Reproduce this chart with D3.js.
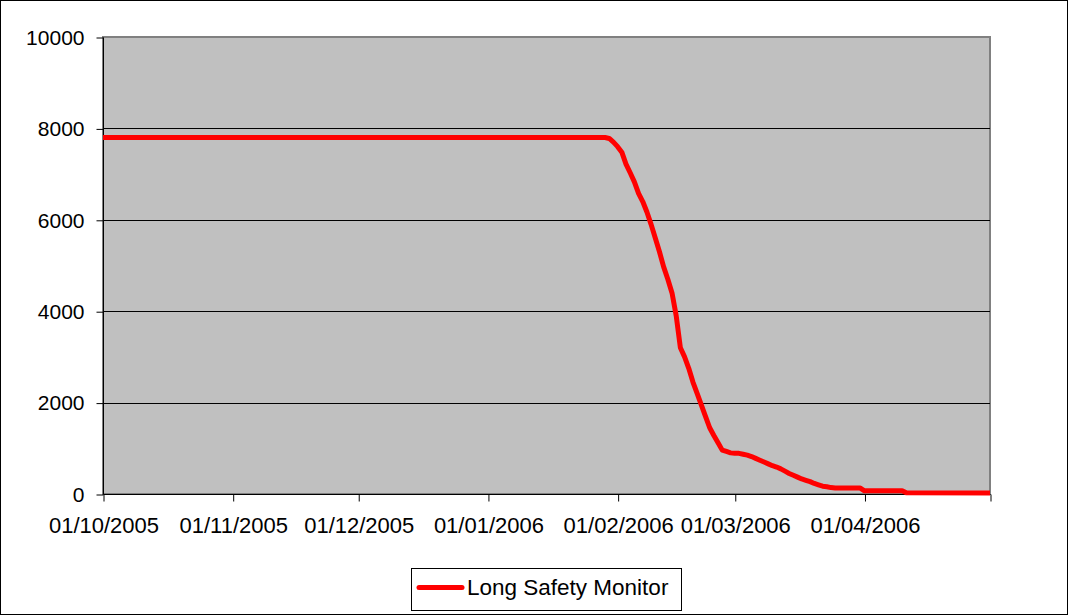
<!DOCTYPE html>
<html>
<head>
<meta charset="utf-8">
<script src="https://cdn.jsdelivr.net/npm/d3@7/dist/d3.min.js"></script>
<style>
  html, body { margin: 0; padding: 0; background: #fff; }
  svg { display: block; font-family: "Liberation Sans", Arial, sans-serif; }
</style>
</head>
<body>
<svg id="chart" width="1068" height="615"></svg>
<script>
// ---- data ----
const seriesName = "Long Safety Monitor";
const dates = [
  "2005-10-01","2006-01-29","2006-01-30","2006-01-31","2006-02-01","2006-02-02",
  "2006-02-03","2006-02-04","2006-02-05","2006-02-06","2006-02-07","2006-02-08",
  "2006-02-09","2006-02-10","2006-02-11","2006-02-12","2006-02-13","2006-02-14",
  "2006-02-15","2006-02-16","2006-02-17","2006-02-18","2006-02-19","2006-02-20",
  "2006-02-21","2006-02-22","2006-02-23","2006-02-24","2006-02-25","2006-02-26",
  "2006-02-27","2006-02-28","2006-03-01","2006-03-02","2006-03-03","2006-03-04",
  "2006-03-05","2006-03-06","2006-03-07","2006-03-08","2006-03-09","2006-03-10",
  "2006-03-11","2006-03-12","2006-03-13","2006-03-14","2006-03-15","2006-03-16",
  "2006-03-17","2006-03-18","2006-03-19","2006-03-20","2006-03-21","2006-03-22",
  "2006-03-23","2006-03-24","2006-03-25","2006-03-31","2006-04-01","2006-04-10",
  "2006-04-11","2006-05-01"
];
const values = [
  7800,7800,7780,7700,7600,7480,
  7220,7030,6830,6580,6400,6170,
  5900,5600,5300,4970,4700,4400,
  3900,3200,3000,2750,2450,2200,
  1950,1700,1450,1280,1120,960,
  930,900,890,890,870,850,
  820,780,740,700,660,620,
  590,550,500,450,410,370,
  330,300,270,230,200,170,
  160,140,130,130,70,70,
  25,20
];
const yTicks = [0, 2000, 4000, 6000, 8000, 10000];
const xTickDates = ["2005-10-01","2005-11-01","2005-12-01","2006-01-01","2006-02-01","2006-03-01","2006-04-01","2006-05-01"];
const xTickLabels = ["01/10/2005","01/11/2005","01/12/2005","01/01/2006","01/02/2006","01/03/2006","01/04/2006",""];

// ---- layout ----
const parse = d3.utcParse("%Y-%m-%d");
const svg = d3.select("#chart");
const W = 1068, H = 615;
const plot = { left: 103, right: 990, top: 37, bottom: 494 };

svg.append("rect").attr("x", 0.5).attr("y", 0.5).attr("width", W - 1).attr("height", H - 1)
  .attr("fill", "#fff").attr("stroke", "#000").attr("stroke-width", 1);

const x = d3.scaleUtc()
  .domain([parse("2005-10-01"), parse("2006-05-01")])
  .range([plot.left, plot.right]);
const y = d3.scaleLinear().domain([0, 10000]).range([plot.bottom, plot.top]);

// plot background
svg.append("rect")
  .attr("x", plot.left).attr("y", plot.top)
  .attr("width", plot.right - plot.left).attr("height", plot.bottom - plot.top)
  .attr("fill", "#c0c0c0").attr("stroke", "#808080").attr("stroke-width", 2);

// gridlines
svg.append("g").selectAll("line")
  .data(yTicks.filter(v => v > 0 && v < 10000))
  .join("line")
  .attr("x1", plot.left).attr("x2", plot.right)
  .attr("y1", d => Math.round(y(d)) + 0.5).attr("y2", d => Math.round(y(d)) + 0.5)
  .attr("stroke", "#000").attr("stroke-width", 1);

// y axis
const yAxis = d3.axisLeft(y).tickValues(yTicks).tickSize(7).tickPadding(12).tickFormat(d3.format("d"));
const gy = svg.append("g").attr("transform", `translate(${plot.left + 0.5},0.5)`).call(yAxis);
gy.select(".domain").attr("stroke", "#000").attr("d", `M0,${plot.top}V${plot.bottom}`);
gy.selectAll(".tick line").attr("stroke", "#000");
gy.selectAll(".tick text").attr("font-size", 21).attr("fill", "#000")
  .attr("font-family", "Liberation Sans, Arial, sans-serif");

// x axis
const xAxis = d3.axisBottom(x)
  .tickValues(xTickDates.map(parse))
  .tickSize(7).tickPadding(16)
  .tickFormat((d, i) => xTickLabels[i]);
const gx = svg.append("g").attr("transform", `translate(0.5,${plot.bottom + 0.5})`).call(xAxis);
gx.select(".domain").attr("stroke", "#000").attr("d", `M${plot.left},0H${plot.right}`);
gx.selectAll(".tick line").attr("stroke", "#000");
gx.selectAll(".tick text").attr("font-size", 22).attr("fill", "#000")
  .attr("font-family", "Liberation Sans, Arial, sans-serif");

// series line
const data = dates.map((d, i) => ({ date: parse(d), value: values[i] }));
const line = d3.line().x(d => x(d.date)).y(d => y(d.value));
svg.append("path").datum(data)
  .attr("d", line)
  .attr("fill", "none").attr("stroke", "#ff0000")
  .attr("stroke-width", 5).attr("stroke-linejoin", "round");

// legend
const lg = svg.append("g");
lg.append("rect").attr("x", 411.5).attr("y", 568.5).attr("width", 270).attr("height", 42)
  .attr("fill", "#fff").attr("stroke", "#000").attr("stroke-width", 1);
lg.append("line").attr("x1", 419).attr("x2", 462).attr("y1", 587.5).attr("y2", 587.5)
  .attr("stroke", "#ff0000").attr("stroke-width", 5).attr("stroke-linecap", "round");
lg.append("text").attr("x", 467).attr("y", 595).attr("font-size", 22.5).attr("fill", "#000")
  .text(seriesName);
</script>
</body>
</html>
